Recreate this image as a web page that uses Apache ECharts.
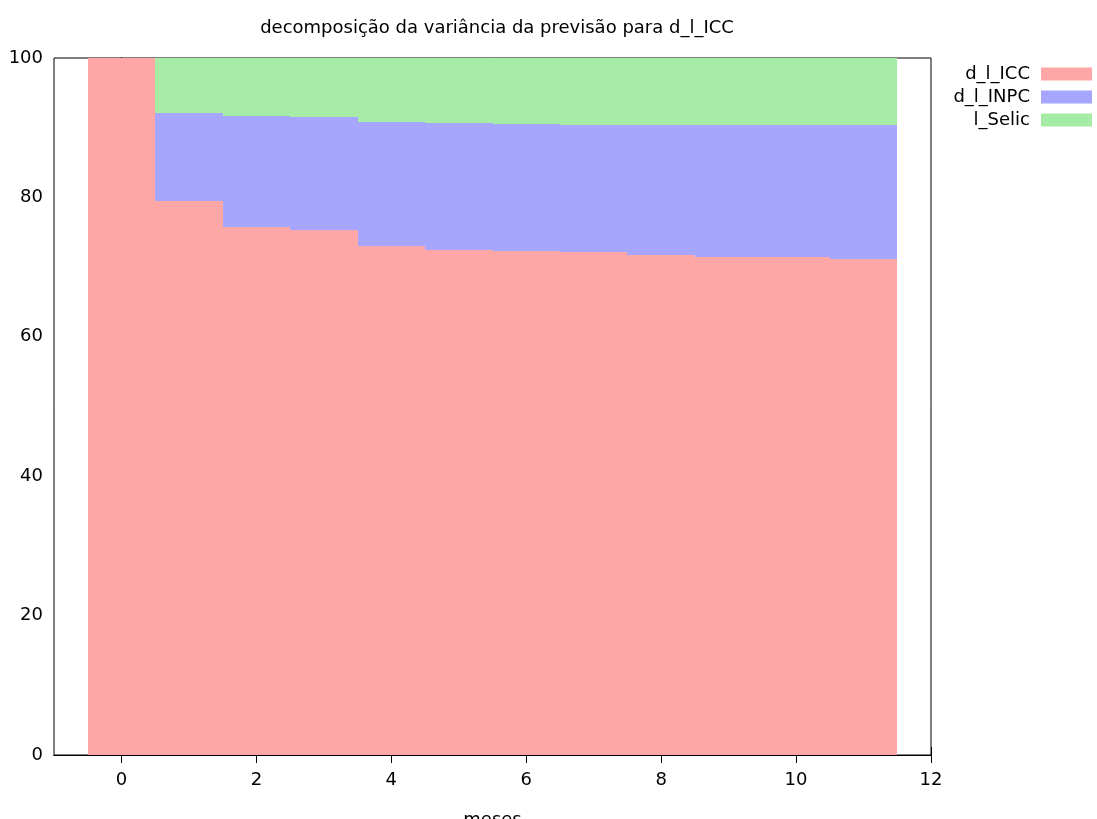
<!DOCTYPE html>
<html>
<head>
<meta charset="utf-8">
<script src="https://cdn.jsdelivr.net/npm/echarts@6/dist/echarts.min.js"></script>
<style>
  html, body { margin: 0; padding: 0; background: #fff; }
  #main { width: 1097px; height: 819px; }
</style>
</head>
<body>
<div id="main"></div>
<script>
// horizonte (meses) e participação de cada variável (%)
var meses = [0, 1, 2, 3, 4, 5, 6, 7, 8, 9, 10, 11];
var icc   = [100, 79.44, 75.71, 75.38, 72.96, 72.51, 72.32, 72.22, 71.69, 71.40, 71.38, 71.21];
var inpc  = [0, 12.63, 15.99, 16.22, 17.92, 18.23, 18.23, 18.23, 18.76, 18.95, 18.97, 19.14];
var selic = [0, 7.93, 8.30, 8.40, 9.12, 9.26, 9.45, 9.55, 9.55, 9.65, 9.65, 9.65];
var xTicks = [0, 2, 4, 6, 8, 10, 12];

var nomes = ['d_l_ICC', 'd_l_INPC', 'l_Selic'];
var cores = ['#ffa6a6', '#a6a6ff', '#a6eca6'];
var font = 'DejaVu Sans';

// empilha: cada linha [mes, base, topo]
var base = meses.map(function () { return 0; });
function empilha(vals) {
    return meses.map(function (m, i) {
        var b = base[i];
        base[i] = b + vals[i];
        return [m, b, base[i]];
    });
}
var dados = [empilha(icc), empilha(inpc), empilha(selic)];

function renderBarra(params, api) {
    var x = api.value(0);
    var p1 = api.coord([x - 0.5, api.value(2)]);
    var p2 = api.coord([x + 0.5, api.value(1)]);
    var x0 = Math.round(p1[0]), x1 = Math.round(p2[0]);
    var y0 = Math.round(p1[1]), y1 = Math.round(p2[1]);
    return {
        type: 'rect',
        shape: { x: x0, y: y0, width: x1 - x0, height: y1 - y0 },
        style: { fill: api.visual('color') }
    };
}

var chart = echarts.init(document.getElementById('main'));

var eixoX = function (pos, labels) {
    return {
        type: 'value', min: -1, max: 12, position: pos,
        name: labels ? 'meses' : '', nameLocation: 'middle', nameGap: 56,
        nameTextStyle: { fontFamily: font, fontSize: 18, color: '#000' },
        axisLine: { show: true, lineStyle: { color: '#000' } },
        axisTick: { show: true, inside: true, length: 8, customValues: xTicks, lineStyle: { color: '#000' } },
        axisLabel: { show: labels, customValues: xTicks, margin: 16, fontFamily: font, fontSize: 18, color: '#000' },
        splitLine: { show: false }
    };
};
var eixoY = function (pos, labels) {
    return {
        type: 'value', min: 0, max: 100, interval: 20, position: pos,
        axisLine: { show: true, lineStyle: { color: '#000' } },
        axisTick: { show: true, inside: true, length: 8, lineStyle: { color: '#000' } },
        axisLabel: { show: labels, margin: 11, fontFamily: font, fontSize: 18, color: '#000' },
        splitLine: { show: false }
    };
};

var option = {
    animation: false,
    backgroundColor: '#fff',
    title: {
        text: 'decomposição da variância da previsão para d_l_ICC',
        left: 492,
        textAlign: 'center',
        top: 14,
        textStyle: { fontFamily: font, fontSize: 18, fontWeight: 'normal', color: '#000' }
    },
    legend: {
        orient: 'vertical',
        right: 0,
        top: 60,
        align: 'right',
        icon: 'rect',
        itemWidth: 51,
        itemHeight: 13,
        itemGap: 5,
        textStyle: { fontFamily: font, fontSize: 18, lineHeight: 18, color: '#000', padding: [0, 6, 0, 0] },
        data: nomes
    },
    grid: {
        left: 54, right: 1097 - 931, top: 58, bottom: 819 - 755,
        outerBoundsMode: 'none', containLabel: false,
        show: true, borderColor: '#000', borderWidth: 1
    },
    xAxis: [eixoX('bottom', true), eixoX('top', false)],
    yAxis: [eixoY('left', true), eixoY('right', false)],
    series: nomes.map(function (nome, k) {
        return {
            name: nome,
            type: 'custom',
            renderItem: renderBarra,
            itemStyle: { color: cores[k] },
            encode: { x: 0, y: [1, 2] },
            data: dados[k]
        };
    })
};

chart.setOption(option);
</script>
</body>
</html>
